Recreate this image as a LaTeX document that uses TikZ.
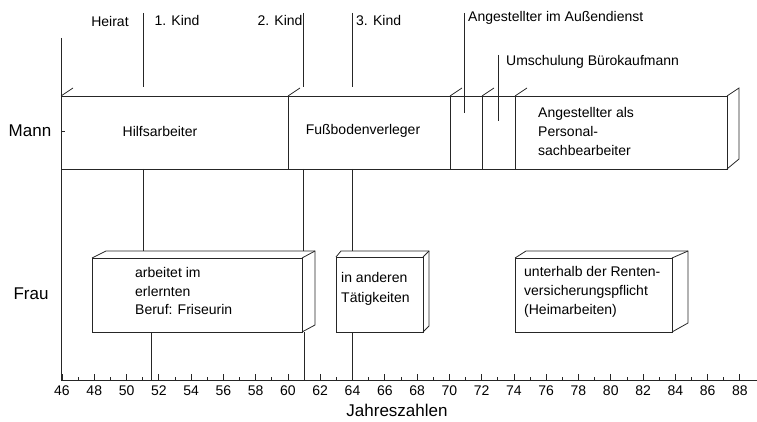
\documentclass[tikz,border=0pt]{standalone}
\usepackage{fontspec}
\setmainfont{Liberation Sans}
\begin{document}
\begin{tikzpicture}[x=1pt,y=-1pt,
  ln/.style={draw=black!85,line width=0.8pt},
  lbl/.style={font=\fontsize{14}{19}\selectfont,inner sep=0pt},
  blk/.style={font=\fontsize{14}{19}\selectfont,inner sep=0pt,align=left,anchor=west},
  big/.style={font=\fontsize{17}{20}\selectfont,inner sep=0pt}]
\useasboundingbox (0,0) rectangle (757,422);

% axes
\draw[ln] (61,38) -- (61,380);
\draw[ln] (61,380) -- (757,380);
\draw[ln] (61,131) -- (65,131);
\foreach \yr in {46,...,88}{
  \pgfmathsetmacro\xx{62+(\yr-46)*16.14}
  \ifodd\yr
    \draw[ln] (\xx,380) -- (\xx,377);
  \else
    \draw[ln] (\xx,380) -- (\xx,374);
    \node[lbl] (t\yr) at (\xx,391) {\yr};
  \fi
}
\node[big] (jz) at (397,410) {Jahreszahlen};
\node[big] (mann) at (30,131) {Mann};
\node[big] (frau) at (31,294) {Frau};

% event labels
\node[lbl] (heirat) at (110,21) {Heirat};
\node[lbl] (k1) at (177,20) {1. Kind};
\node[lbl] (k2) at (280,20) {2. Kind};
\node[lbl,anchor=west] (k3) at (356,20) {3. Kind};
\node[lbl,anchor=west] (aad) at (468,18) {Angestellter im Außendienst};
\node[lbl,anchor=west] (umb) at (506,62) {Umschulung Bürokaufmann};

% event lines
\draw[ln] (143,13) -- (143,87);
\draw[ln] (143,169) -- (143,251);
\draw[ln] (151,332) -- (151,380);
\draw[ln] (303,13) -- (303,87);
\draw[ln] (303,169) -- (303,251);
\draw[ln] (304,332) -- (304,380);
\draw[ln] (352,13) -- (352,87);
\draw[ln] (352,169) -- (352,251);
\draw[ln] (352,332) -- (352,380);
\draw[ln] (464,13) -- (464,113);
\draw[ln] (498,55) -- (498,121);

% Mann bar
\draw[ln] (61,96) rectangle (727,169);
\foreach \dx in {288,450,482,515}{
  \draw[ln] (\dx,96) -- (\dx,169);
}
\foreach \dx in {61,288,450,482,515}{
  \draw[ln] (\dx,96) -- ++(12,-8);
}
\draw[ln] (727,96) -- (739,88) -- (739,159) -- (727,169);
\node[lbl] (hilf) at (160,131) {Hilfsarbeiter};
\node[lbl] (fuss) at (363,131) {Fußbodenverleger};
\node[blk] (pers) at (538,131) {Angestellter als\\Personal-\\sachbearbeiter};

% Frau boxes
\draw[ln] (92,258) rectangle (302,332);
\draw[ln] (92,258) -- (106,251) -- (315,251) -- (315,325) -- (302,332);
\draw[ln] (302,258) -- (315,251);
\node[blk,font=\fontsize{14}{18.5}\selectfont] (fris) at (135,291) {arbeitet im\\erlernten\\Beruf: Friseurin};

\draw[ln] (336,257) rectangle (423,332);
\draw[ln] (336,257) -- (341,251) -- (429,251) -- (429,326) -- (423,332);
\draw[ln] (423,257) -- (429,251);
\node[blk,font=\fontsize{14}{20}\selectfont] (and) at (341,289) {in anderen\\Tätigkeiten};

\draw[ln] (515,258) rectangle (672,332);
\draw[ln] (515,258) -- (526,251) -- (688,251) -- (688,323) -- (672,332);
\draw[ln] (672,258) -- (688,251);
\node[blk] (heim) at (524,292) {unterhalb der Renten-\\versicherungspflicht\\(Heimarbeiten)};
\end{tikzpicture}
\end{document}
